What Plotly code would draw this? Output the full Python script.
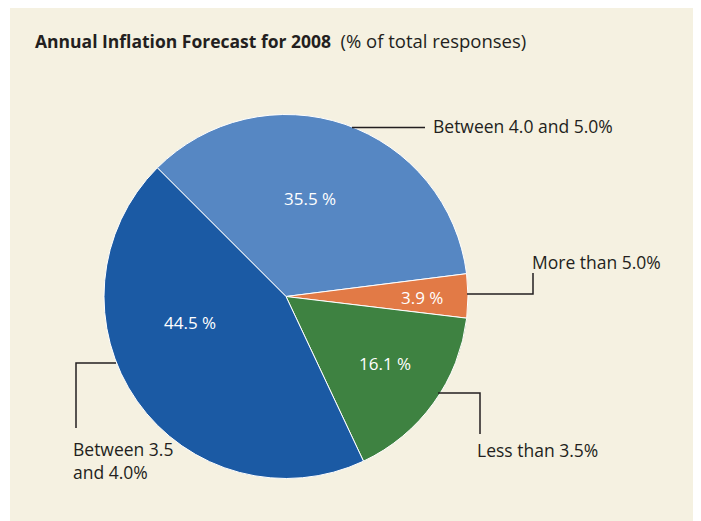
import plotly.graph_objects as go

# the page body has an 8px margin, so the figure sits at (8, 8) in the window
OFF = 8
W, H = 701 - OFF, 521 - OFF

categories = ["Between 4.0 and 5.0%", "More than 5.0%", "Less than 3.5%", "Between 3.5<br>and 4.0%"]
values = [35.5, 3.9, 16.1, 44.5]
colors = ["#5687c3", "#e27a46", "#3e8241", "#1b5aa4"]

# window-pixel helpers -> paper coords
def px(x):
    return (x - OFF) / W

def py(y):
    return 1 - (y - OFF) / H

cx, cy, r = 286, 296.5, 182

fig = go.Figure(go.Pie(
    labels=categories,
    values=values,
    sort=False,
    direction="clockwise",
    rotation=-45,
    marker=dict(colors=colors, line=dict(color="white", width=1)),
    textinfo="none",
    hoverinfo="label+percent",
    showlegend=False,
    domain=dict(x=[px(cx - r), px(cx + r)], y=[py(cy + r), py(cy - r)]),
))

font_family = "Open Sans, Noto Sans, sans-serif"
txt = "#231f20"

annotations = []
# title
annotations.append(dict(
    x=px(33), y=py(40), xref="paper", yref="paper", xanchor="left", yanchor="middle",
    text="<b><span style='font-size:17.5px'>Annual Inflation Forecast for 2008</span></b>"
         "&nbsp;&nbsp;<span style='font-size:18.5px'>(% of total responses)</span>",
    showarrow=False, font=dict(family=font_family, size=18, color=txt),
))

# inside value labels
inside_pos = [(310, 199), (422, 297), (385, 363), (190, 322)]
for v, (x, y) in zip(values, inside_pos):
    annotations.append(dict(
        x=px(x), y=py(y), xref="paper", yref="paper", xanchor="center", yanchor="middle",
        text=f"{v:.1f} %", showarrow=False,
        font=dict(family=font_family, size=17, color="white"),
    ))

# outside category labels
label_pos = [(431, 126), (530, 262), (475, 450), (71, 460)]
for c, (x, y) in zip(categories, label_pos):
    annotations.append(dict(
        x=px(x), y=py(y), xref="paper", yref="paper", xanchor="left", yanchor="middle",
        text=c, showarrow=False, align="left",
        font=dict(family=font_family, size=17.5, color=txt),
    ))

# leader lines (pixel polylines)
leaders = [
    [(352, 127.5), (425, 127.5)],
    [(467, 294), (533, 294), (533, 273)],
    [(438, 393), (480, 393), (480, 434)],
    [(116, 363), (76, 363), (76, 428)],
]
shapes = []
for pts in leaders:
    path = "M " + " L ".join(f"{px(x)},{py(y)}" for x, y in pts)
    shapes.append(dict(type="path", xref="paper", yref="paper", path=path,
                       line=dict(color=txt, width=1.5), layer="above"))

# white frame around cream panel (left and right strips)
for x0, y0, x1, y1 in [(OFF, OFF, 10, 521), (697, OFF, 701, 521)]:
    shapes.append(dict(type="rect", xref="paper", yref="paper",
                       x0=px(x0), x1=px(x1), y0=py(y1), y1=py(y0),
                       fillcolor="white", line=dict(width=0), layer="above"))

fig.update_layout(
    width=W, height=H,
    margin=dict(l=0, r=0, t=0, b=0),
    paper_bgcolor="#f5f1e1",
    plot_bgcolor="#f5f1e1",
    annotations=annotations,
    shapes=shapes,
    font=dict(family=font_family),
)

fig.write_html("out.html")
